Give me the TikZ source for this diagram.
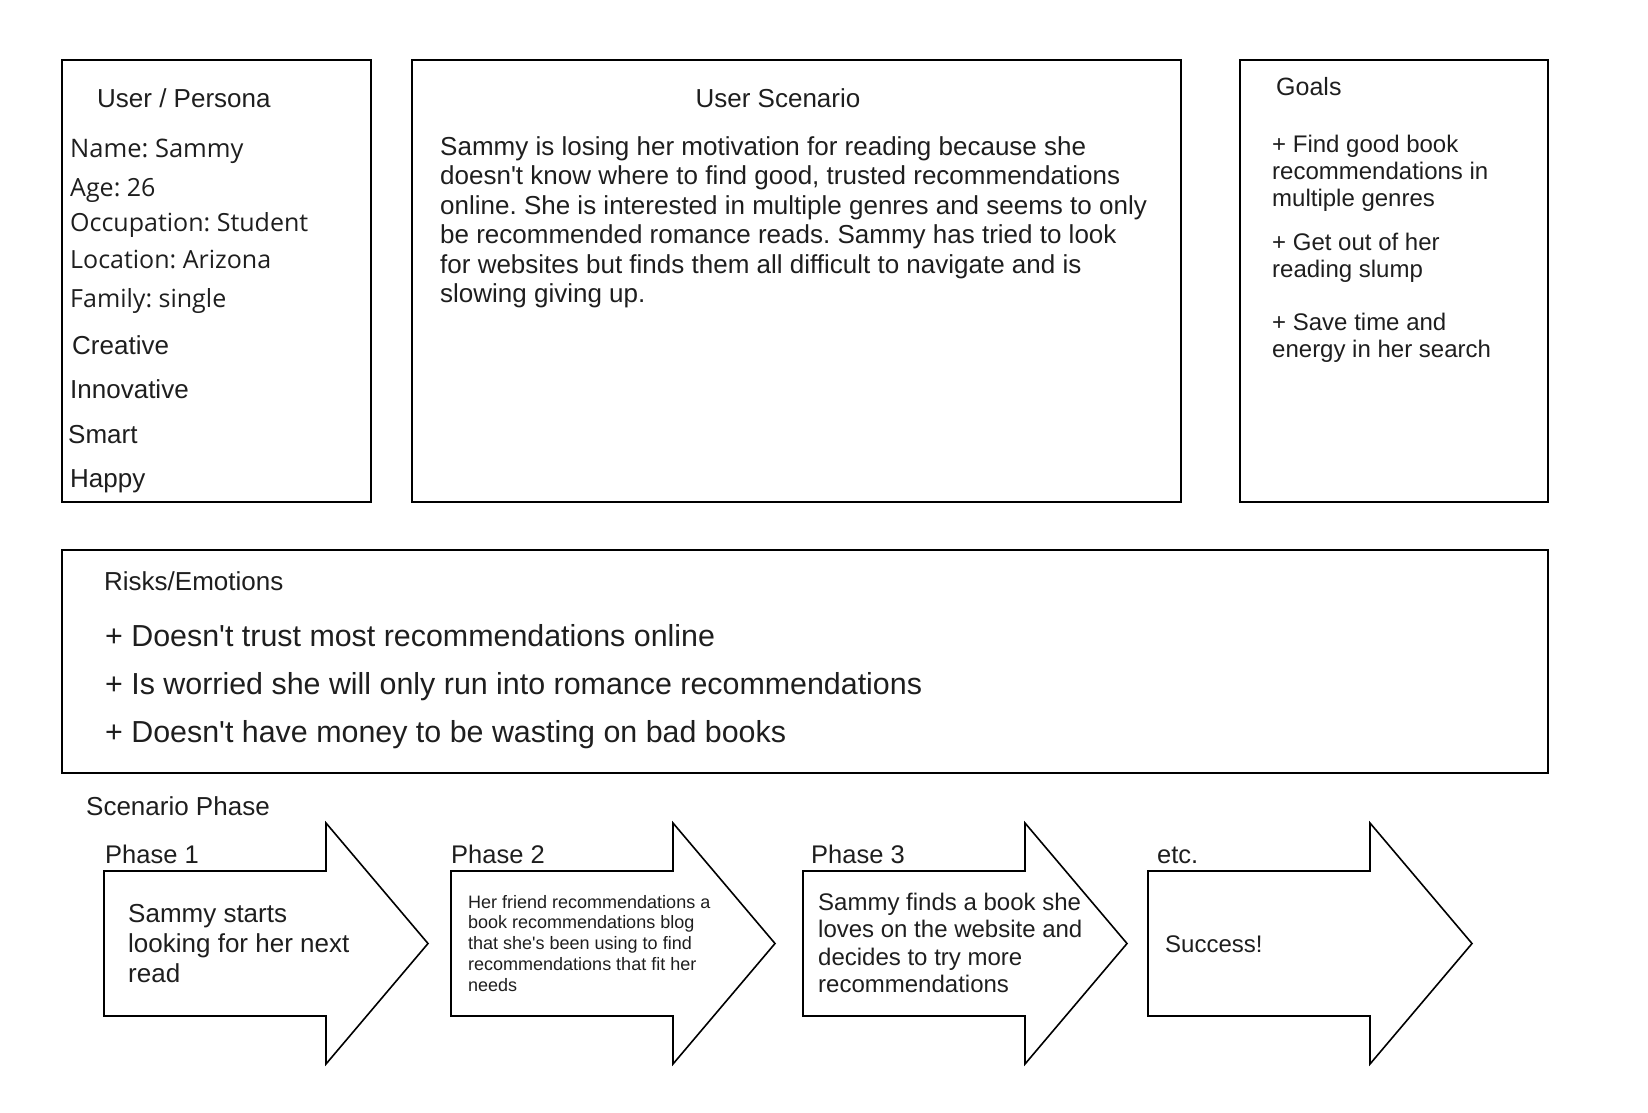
\documentclass[tikz,border=0pt]{standalone}
\usepackage{fontspec}
\setmainfont{Liberation Sans}
\newfontfamily\arialfont{Liberation Sans}
\newfontfamily\opensans{Open Sans}
\definecolor{ink}{HTML}{1E1E1E}
\frenchspacing
\tikzset{
  panel/.style={draw=black, line width=2pt},
  phasearrow/.style={draw=black, line width=1.6pt, line join=miter},
  lbl/.style={anchor=base west, inner sep=0pt, text=ink},
  para/.style={anchor=north west, inner sep=0pt, text=ink, align=left},
}

\begin{document}
\begin{tikzpicture}[x=1pt,y=-1pt]
		\useasboundingbox (0,0) rectangle (1648,1112);
		% boxes
		\draw [panel] (62,60) rectangle (371,502);
		\draw [panel] (412,60) rectangle (1181,502);
		\draw [panel] (1240,60) rectangle (1548,502);
		\draw [panel] (62,550) rectangle (1548,773);

		% user / persona
		\node [lbl, font=\arialfont\fontsize{26}{30}\selectfont] (persona) at (97,107) {User / Persona};
		\node [lbl, font=\opensans\fontsize{25.5}{29}\selectfont] (name) at (70,157) {Name: Sammy};
		\node [lbl, font=\opensans\fontsize{25}{29}\selectfont] (age) at (70,196) {Age: 26};
		\node [lbl, font=\opensans\fontsize{25}{29}\selectfont] (job) at (70,231) {Occupation: Student};
		\node [lbl, font=\opensans\fontsize{25}{29}\selectfont] (place) at (70,268) {Location: Arizona};
		\node [lbl, font=\opensans\fontsize{25}{29}\selectfont] (family) at (70,307) {Family: single};
		\node [lbl, font=\arialfont\fontsize{26}{30}\selectfont] (creative) at (72,354) {Creative};
		\node [lbl, font=\arialfont\fontsize{26}{30}\selectfont] (innovative) at (70,398) {Innovative};
		\node [lbl, font=\arialfont\fontsize{26}{30}\selectfont] (smart) at (68,443) {Smart};
		\node [lbl, font=\arialfont\fontsize{26}{30}\selectfont] (happy) at (70,487) {Happy};

		% user scenario
		\node [lbl, anchor=base, font=\arialfont\fontsize{26}{30}\selectfont] (scenario) at (778,107) {User Scenario};
		\node [para, font=\arialfont\fontsize{26}{29.5}\selectfont] (story) at (440,136) {Sammy is losing her motivation for reading because she\\doesn't know where to find good, trusted recommendations\\online. She is interested in multiple genres and seems to only\\be recommended romance reads. Sammy has tried to look\\for websites but finds them all difficult to navigate and is\\slowing giving up.};

		% goals
		\node [lbl, font=\arialfont\fontsize{25}{30}\selectfont] (goals) at (1276,95) {Goals};
		\node [para, font=\arialfont\fontsize{24}{27}\selectfont] (goal1) at (1272,134.5) {+ Find good book\\recommendations in\\multiple genres};
		\node [para, font=\arialfont\fontsize{24}{27}\selectfont] (goal2) at (1272,232.5) {+ Get out of her\\reading slump};
		\node [para, font=\arialfont\fontsize{24}{27}\selectfont] (goal3) at (1272,313) {+ Save time and\\energy in her search};

		% risks
		\node [lbl, font=\arialfont\fontsize{26}{30}\selectfont] (risks) at (104,590) {Risks/Emotions};
		\node [lbl, font=\arialfont\fontsize{30.4}{36}\selectfont] (risk1) at (105,646) {+ Doesn't trust most recommendations online};
		\node [lbl, font=\arialfont\fontsize{30.4}{36}\selectfont] (risk2) at (105,694) {+ Is worried she will only run into romance recommendations};
		\node [lbl, font=\arialfont\fontsize{30.4}{36}\selectfont] (risk3) at (105,742) {+ Doesn't have money to be wasting on bad books};

		% scenario phases
		\node [lbl, font=\arialfont\fontsize{26}{30}\selectfont] (phases) at (86,815) {Scenario Phase};

		\draw [phasearrow] (104,871) -- (326,871) -- (326,823) -- (428,943.5) -- (326,1064) -- (326,1016) -- (104,1016) -- cycle;
		\draw [phasearrow] (451,871) -- (673,871) -- (673,823) -- (775,943.5) -- (673,1064) -- (673,1016) -- (451,1016) -- cycle;
		\draw [phasearrow] (803,871) -- (1025,871) -- (1025,823) -- (1127,943.5) -- (1025,1064) -- (1025,1016) -- (803,1016) -- cycle;
		\draw [phasearrow] (1148,871) -- (1370,871) -- (1370,823) -- (1472,943.5) -- (1370,1064) -- (1370,1016) -- (1148,1016) -- cycle;

		\node [lbl, font=\arialfont\fontsize{25.5}{30}\selectfont] (phase1) at (105,863) {Phase 1};
		\node [lbl, font=\arialfont\fontsize{25.5}{30}\selectfont] (phase2) at (451,863) {Phase 2};
		\node [lbl, font=\arialfont\fontsize{25.5}{30}\selectfont] (phase3) at (811,863) {Phase 3};
		\node [lbl, font=\arialfont\fontsize{25.5}{30}\selectfont] (etc) at (1157,863) {etc.};

		\node [para, font=\arialfont\fontsize{26}{30}\selectfont] (step1) at (128,904) {Sammy starts\\looking for her next\\read};
		\node [para, font=\arialfont\fontsize{18}{20.7}\selectfont] (step2) at (468,895) {Her friend recommendations a\\book recommendations blog\\that she's been using to find\\recommendations that fit her\\needs};
		\node [para, font=\arialfont\fontsize{24}{27.3}\selectfont] (step3) at (818,893) {Sammy finds a book she\\loves on the website and\\decides to try more\\recommendations};
		\node [lbl, font=\arialfont\fontsize{24}{28}\selectfont] (step4) at (1165,952) {Success!};
\end{tikzpicture}
\end{document}
